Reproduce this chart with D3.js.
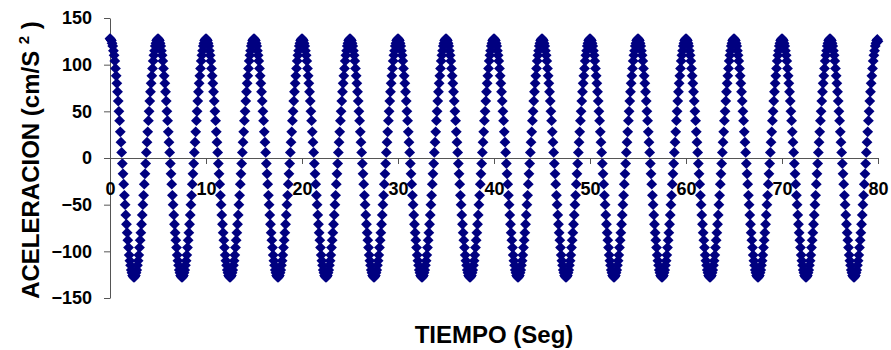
<!DOCTYPE html>
<html><head><meta charset="utf-8">
<script src="https://cdn.jsdelivr.net/npm/d3@7"></script>
<style>body{margin:0;background:#fff}svg{display:block}</style>
</head><body><svg id="c" width="891" height="350"></svg>
<script>
// Tick labels
const xTicks = [0, 10, 20, 30, 40, 50, 60, 70, 80];
const yTicks = [-150, -100, -50, 0, 50, 100, 150];
// Time span (s) of the record
const tStart = 0, tEnd = 80;
// Acceleration samples (cm/s^2), evenly spaced from tStart to tEnd
const acel = [
128,127,126,123,120,115,110,104,96,88,80,71,61,50,40,28,17,6,-6,-17,-28,-40,-50,-61,-71,-80,-88,-96,-104,-110,-115,-120,-123,-126,-127,-128,-127,-126,-123,-120,-115,-110,-104,-96,-88,-80,-71,-61,-50,-40,-28,-17,-6,6,17,28,40,50,61,71,80,88,96,104,110,115,120,123,126,127,
128,127,126,123,120,115,110,104,96,88,80,71,61,50,40,28,17,6,-6,-17,-28,-40,-50,-61,-71,-80,-88,-96,-104,-110,-115,-120,-123,-126,-127,-128,-127,-126,-123,-120,-115,-110,-104,-96,-88,-80,-71,-61,-50,-40,-28,-17,-6,6,17,28,40,50,61,71,80,88,96,104,110,115,120,123,126,127,
128,127,126,123,120,115,110,104,96,88,80,71,61,50,40,28,17,6,-6,-17,-28,-40,-50,-61,-71,-80,-88,-96,-104,-110,-115,-120,-123,-126,-127,-128,-127,-126,-123,-120,-115,-110,-104,-96,-88,-80,-71,-61,-50,-40,-28,-17,-6,6,17,28,40,50,61,71,80,88,96,104,110,115,120,123,126,127,
128,127,126,123,120,115,110,104,96,88,80,71,61,50,40,28,17,6,-6,-17,-28,-40,-50,-61,-71,-80,-88,-96,-104,-110,-115,-120,-123,-126,-127,-128,-127,-126,-123,-120,-115,-110,-104,-96,-88,-80,-71,-61,-50,-40,-28,-17,-6,6,17,28,40,50,61,71,80,88,96,104,110,115,120,123,126,127,
128,127,126,123,120,115,110,104,96,88,80,71,61,50,40,28,17,6,-6,-17,-28,-40,-50,-61,-71,-80,-88,-96,-104,-110,-115,-120,-123,-126,-127,-128,-127,-126,-123,-120,-115,-110,-104,-96,-88,-80,-71,-61,-50,-40,-28,-17,-6,6,17,28,40,50,61,71,80,88,96,104,110,115,120,123,126,127,
128,127,126,123,120,115,110,104,96,88,80,71,61,50,40,28,17,6,-6,-17,-28,-40,-50,-61,-71,-80,-88,-96,-104,-110,-115,-120,-123,-126,-127,-128,-127,-126,-123,-120,-115,-110,-104,-96,-88,-80,-71,-61,-50,-40,-28,-17,-6,6,17,28,40,50,61,71,80,88,96,104,110,115,120,123,126,127,
128,127,126,123,120,115,110,104,96,88,80,71,61,50,40,28,17,6,-6,-17,-28,-40,-50,-61,-71,-80,-88,-96,-104,-110,-115,-120,-123,-126,-127,-128,-127,-126,-123,-120,-115,-110,-104,-96,-88,-80,-71,-61,-50,-40,-28,-17,-6,6,17,28,40,50,61,71,80,88,96,104,110,115,120,123,126,127,
128,127,126,123,120,115,110,104,96,88,80,71,61,50,40,28,17,6,-6,-17,-28,-40,-50,-61,-71,-80,-88,-96,-104,-110,-115,-120,-123,-126,-127,-128,-127,-126,-123,-120,-115,-110,-104,-96,-88,-80,-71,-61,-50,-40,-28,-17,-6,6,17,28,40,50,61,71,80,88,96,104,110,115,120,123,126,127,
128,127,126,123,120,115,110,104,96,88,80,71,61,50,40,28,17,6,-6,-17,-28,-40,-50,-61,-71,-80,-88,-96,-104,-110,-115,-120,-123,-126,-127,-128,-127,-126,-123,-120,-115,-110,-104,-96,-88,-80,-71,-61,-50,-40,-28,-17,-6,6,17,28,40,50,61,71,80,88,96,104,110,115,120,123,126,127,
128,127,126,123,120,115,110,104,96,88,80,71,61,50,40,28,17,6,-6,-17,-28,-40,-50,-61,-71,-80,-88,-96,-104,-110,-115,-120,-123,-126,-127,-128,-127,-126,-123,-120,-115,-110,-104,-96,-88,-80,-71,-61,-50,-40,-28,-17,-6,6,17,28,40,50,61,71,80,88,96,104,110,115,120,123,126,127,
128,127,126,123,120,115,110,104,96,88,80,71,61,50,40,28,17,6,-6,-17,-28,-40,-50,-61,-71,-80,-88,-96,-104,-110,-115,-120,-123,-126,-127,-128,-127,-126,-123,-120,-115,-110,-104,-96,-88,-80,-71,-61,-50,-40,-28,-17,-6,6,17,28,40,50,61,71,80,88,96,104,110,115,120,123,126,127,
128,127,126,123,120,115,110,104,96,88,80,71,61,50,40,28,17,6,-6,-17,-28,-40,-50,-61,-71,-80,-88,-96,-104,-110,-115,-120,-123,-126,-127,-128,-127,-126,-123,-120,-115,-110,-104,-96,-88,-80,-71,-61,-50,-40,-28,-17,-6,6,17,28,40,50,61,71,80,88,96,104,110,115,120,123,126,127,
128,127,126,123,120,115,110,104,96,88,80,71,61,50,40,28,17,6,-6,-17,-28,-40,-50,-61,-71,-80,-88,-96,-104,-110,-115,-120,-123,-126,-127,-128,-127,-126,-123,-120,-115,-110,-104,-96,-88,-80,-71,-61,-50,-40,-28,-17,-6,6,17,28,40,50,61,71,80,88,96,104,110,115,120,123,126,127,
128,127,126,123,120,115,110,104,96,88,80,71,61,50,40,28,17,6,-6,-17,-28,-40,-50,-61,-71,-80,-88,-96,-104,-110,-115,-120,-123,-126,-127,-128,-127,-126,-123,-120,-115,-110,-104,-96,-88,-80,-71,-61,-50,-40,-28,-17,-6,6,17,28,40,50,61,71,80,88,96,104,110,115,120,123,126,127,
128,127,126,123,120,115,110,104,96,88,80,71,61,50,40,28,17,6,-6,-17,-28,-40,-50,-61,-71,-80,-88,-96,-104,-110,-115,-120,-123,-126,-127,-128,-127,-126,-123,-120,-115,-110,-104,-96,-88,-80,-71,-61,-50,-40,-28,-17,-6,6,17,28,40,50,61,71,80,88,96,104,110,115,120,123,126,127,
128,127,126,123,120,115,110,104,96,88,80,71,61,50,40,28,17,6,-6,-17,-28,-40,-50,-61,-71,-80,-88,-96,-104,-110,-115,-120,-123,-126,-127,-128,-127,-126,-123,-120,-115,-110,-104,-96,-88,-80,-71,-61,-50,-40,-28,-17,-6,6,17,28,40,50,61,71,80,88,96,104,110,115,120,123,126,127,
125
];
const xTitle = "TIEMPO (Seg)";
const yTitle = "ACELERACION (cm/S";

const FONT = "'Liberation Sans', Arial, sans-serif";
const svg = d3.select('#c');
const x = d3.scaleLinear().domain([0, 80]).range([110, 878]);
const y = d3.scaleLinear().domain([-150, 150]).range([298, 18]);
const n = acel.length;
const data = acel.map((v, i) => ({t: tStart + i * (tEnd - tStart) / (n - 1), a: v}));

// Y axis
const gy = svg.append('g').attr('transform', 'translate(110,0)')
  .call(d3.axisLeft(y).tickValues(yTicks).tickSize(6).tickSizeOuter(0).tickPadding(12));
gy.select('.domain').attr('stroke', '#555');
gy.selectAll('.tick line').attr('stroke', '#555');
gy.selectAll('.tick text').attr('font-family', FONT).attr('font-weight', 'bold')
  .attr('font-size', 18).attr('fill', '#000');

// X axis (at y = 0)
const gx = svg.append('g').attr('transform', `translate(0,${y(0)})`)
  .call(d3.axisBottom(x).tickValues(xTicks).tickSize(6).tickSizeOuter(0).tickPadding(18));
gx.select('.domain').attr('stroke', '#555');
gx.selectAll('.tick line').attr('stroke', '#555');
gx.selectAll('.tick text').attr('font-family', FONT).attr('font-weight', 'bold')
  .attr('font-size', 18).attr('fill', '#000');

// Markers
const s = 5.4;
const diamond = `M0,${-s}L${s},0L0,${s}L${-s},0Z`;
const marks = svg.append('g');
marks.selectAll('path').data(data).join('path')
  .attr('d', diamond)
  .attr('transform', d => `translate(${x(d.t)},${y(d.a)})`)
  .attr('fill', '#000080');

// x tick labels on top of markers
gx.raise();
gx.select('.domain').attr('stroke-width', 1);

// Titles
svg.append('text').attr('x', 494).attr('y', 343).attr('text-anchor', 'middle')
  .attr('font-family', FONT).attr('font-weight', 'bold').attr('font-size', 24)
  .attr('fill', '#000').text(xTitle);

const yt = svg.append('text').attr('transform', 'translate(39,160) rotate(-90)')
  .attr('text-anchor', 'middle')
  .attr('font-family', FONT).attr('font-weight', 'bold').attr('font-size', 24)
  .attr('fill', '#000');
yt.append('tspan').text(yTitle + ' ');
yt.append('tspan').attr('font-size', 15).attr('dy', -10).text('2');
yt.append('tspan').attr('dy', 10).text(' )');
</script></body></html>
